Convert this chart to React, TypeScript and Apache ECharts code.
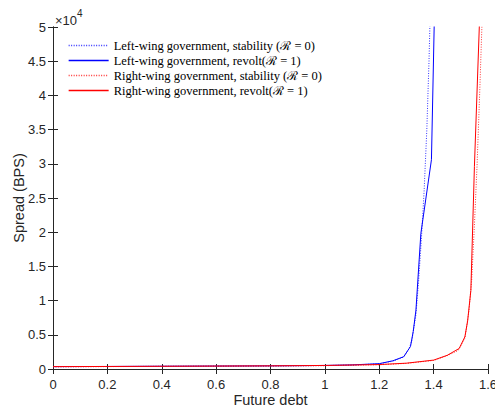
import React, { useEffect, useRef } from "react";
import * as echarts from "echarts";

const seriesNames = [
  "Left-wing government, stability (ℛ = 0)",
  "Left-wing government, revolt(ℛ = 1)",
  "Right-wing government, stability (ℛ = 0)",
  "Right-wing government, revolt(ℛ = 1)",
];

const leftStabilityX = [0, 0.2, 0.4, 0.6, 0.8, 1.0, 1.1, 1.2, 1.25, 1.29, 1.31, 1.32, 1.335, 1.345, 1.355, 1.365, 1.375, 1.383, 1.39];
const leftStabilityY = [330, 360, 390, 420, 450, 500, 580, 760, 1150, 1750, 3000, 4200, 8000, 13000, 19000, 26000, 35000, 45000, 56000];

const leftRevoltX = [0, 0.2, 0.4, 0.6, 0.8, 1.0, 1.1, 1.2, 1.25, 1.29, 1.315, 1.325, 1.335, 1.353, 1.392, 1.402, 1.41];
const leftRevoltY = [350, 370, 400, 430, 460, 520, 600, 780, 1200, 1800, 3300, 5500, 8600, 19800, 30600, 50000, 62000];

const rightStabilityX = [0, 0.2, 0.4, 0.6, 0.8, 1.0, 1.2, 1.3, 1.4, 1.45, 1.49, 1.515, 1.53, 1.54, 1.55, 1.56, 1.57, 1.58];
const rightStabilityY = [320, 350, 380, 410, 440, 490, 620, 820, 1250, 1950, 2700, 4500, 8500, 13000, 21000, 30000, 41000, 53000];

const rightRevoltX = [0, 0.2, 0.4, 0.6, 0.8, 1.0, 1.2, 1.3, 1.4, 1.45, 1.494, 1.515, 1.525, 1.537, 1.55, 1.568, 1.575];
const rightRevoltY = [350, 370, 400, 430, 460, 520, 650, 850, 1300, 2000, 3000, 4700, 7000, 11500, 29600, 50000, 58000];

const xTicks = [0, 0.2, 0.4, 0.6, 0.8, 1.0, 1.2, 1.4, 1.6];
const yTickLabels = ["0", "0.5", "1", "1.5", "2", "2.5", "3", "3.5", "4", "4.5", "5"];

const zip = (xs: number[], ys: number[]) => xs.map((x, i) => [x, ys[i]]);

export default function App() {
  const ref = useRef<HTMLDivElement>(null);
  useEffect(() => {
    if (!ref.current) return;
    const chart = echarts.init(ref.current, undefined, { renderer: "svg" });
    const axisColor = "#262626";
    const sans = "Liberation Sans, Arial, sans-serif";
    const common = {
      axisLine: { show: true, lineStyle: { color: axisColor, width: 1 } },
      axisTick: { show: true, inside: true, length: 5, lineStyle: { color: axisColor } },
      splitLine: { show: false },
    };
    chart.setOption({
      animation: false,
      backgroundColor: "#ffffff",
      grid: { left: 53, right: 7, top: 27, bottom: 41, containLabel: false, outerBoundsMode: "none" },
      legend: {
        left: 68,
        top: 39,
        padding: 0,
        orient: "vertical",
        itemWidth: 40,
        itemHeight: 10,
        itemGap: 2,
        itemStyle: { opacity: 0 },
        lineStyle: { width: 1.3 },
        textStyle: { fontFamily: "Liberation Serif, DejaVu Serif, serif", fontSize: 12.5, color: "#000" },
        data: seriesNames,
      },
      graphic: [
        {
          type: "text",
          left: 55,
          top: 8,
          style: {
            text: "{a|×10}{b|4}",
            rich: {
              a: { fontFamily: sans, fontSize: 13, fill: axisColor, padding: [6, 0, 0, 0] },
              b: { fontFamily: sans, fontSize: 10, fill: axisColor, verticalAlign: "top" },
            },
          },
        },
      ],
      xAxis: [
        {
          type: "value",
          min: 0,
          max: 1.6,
          interval: 0.2,
          position: "bottom",
          ...common,
          axisLabel: {
            color: axisColor,
            fontFamily: sans,
            fontSize: 13,
            margin: 9,
            formatter: (v: number) => {
              const t = xTicks.find((x) => Math.abs(x - v) < 1e-6);
              return t === undefined ? "" : String(+t.toFixed(1));
            },
          },
          name: "Future debt",
          nameLocation: "middle",
          nameGap: 23,
          nameMoveOverlap: false,
          nameTextStyle: { fontFamily: sans, fontSize: 14.5, color: axisColor },
        },
        {
          type: "value",
          min: 0,
          max: 1.6,
          interval: 0.2,
          position: "top",
          ...common,
          axisLabel: { show: false },
        },
      ],
      yAxis: [
        {
          type: "value",
          min: 0,
          max: 50000,
          interval: 5000,
          position: "left",
          ...common,
          axisLabel: {
            color: axisColor,
            fontFamily: sans,
            fontSize: 13,
            margin: 7,
            formatter: (v: number) => yTickLabels[Math.round(v / 5000)] ?? "",
          },
          name: "Spread (BPS)",
          nameLocation: "middle",
          nameGap: 27,
          nameMoveOverlap: false,
          nameTextStyle: { fontFamily: sans, fontSize: 14.5, color: axisColor },
        },
        {
          type: "value",
          min: 0,
          max: 50000,
          interval: 5000,
          position: "right",
          ...common,
          axisLabel: { show: false },
        },
      ],
      series: [
        {
          name: seriesNames[0],
          type: "line",
          data: zip(leftStabilityX, leftStabilityY),
          symbol: "none",
          clip: true,
          lineStyle: { color: "#0000ff", width: 1, type: [1, 1.5], opacity: 0.8 },
          itemStyle: { color: "#0000ff" },
        },
        {
          name: seriesNames[1],
          type: "line",
          data: zip(leftRevoltX, leftRevoltY),
          symbol: "none",
          clip: true,
          lineStyle: { color: "#0000ff", width: 1, type: "solid" },
          itemStyle: { color: "#0000ff" },
        },
        {
          name: seriesNames[2],
          type: "line",
          data: zip(rightStabilityX, rightStabilityY),
          symbol: "none",
          clip: true,
          lineStyle: { color: "#ff0000", width: 1, type: [1, 1.5], opacity: 0.8 },
          itemStyle: { color: "#ff0000" },
        },
        {
          name: seriesNames[3],
          type: "line",
          data: zip(rightRevoltX, rightRevoltY),
          symbol: "none",
          clip: true,
          lineStyle: { color: "#ff0000", width: 1, type: "solid" },
          itemStyle: { color: "#ff0000" },
        },
      ],
    });
    return () => chart.dispose();
  }, []);
  return <div ref={ref} style={{ width: 495, height: 410, position: "absolute", left: 0, top: 0 }} />;
}
